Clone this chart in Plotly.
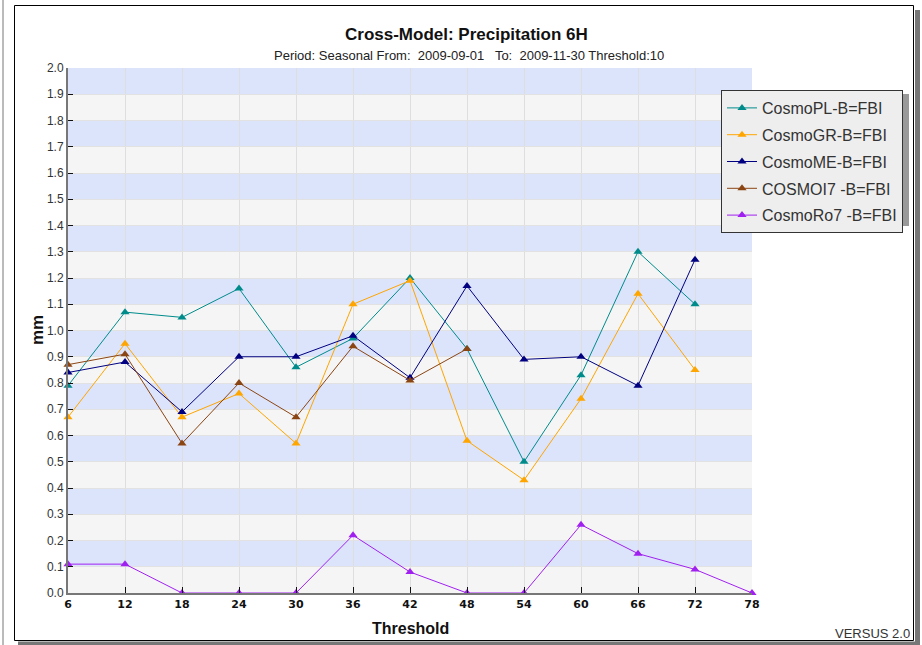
import plotly.graph_objects as go

thresholds = [6, 12, 18, 24, 30, 36, 42, 48, 54, 60, 66, 72, 78]
x_ticks = [6, 12, 18, 24, 30, 36, 42, 48, 54, 60, 66, 72, 78]

cosmo_pl = [0.79, 1.07, 1.05, 1.16, 0.86, 0.97, 1.20, 0.93, 0.50, 0.83, 1.30, 1.10]
cosmo_gr = [0.67, 0.95, 0.67, 0.76, 0.57, 1.10, 1.19, 0.58, 0.43, 0.74, 1.14, 0.85]
cosmo_me = [0.84, 0.88, 0.69, 0.90, 0.90, 0.98, 0.82, 1.17, 0.89, 0.90, 0.79, 1.27]
cosmo_i7 = [0.87, 0.91, 0.57, 0.80, 0.67, 0.94, 0.81, 0.93]
cosmo_ro7 = [0.11, 0.11, 0.00, 0.00, 0.00, 0.22, 0.08, 0.00, 0.00, 0.26, 0.15, 0.09, 0.00]

series = [
    ("CosmoPL-B=FBI", cosmo_pl, "#008B8B"),
    ("CosmoGR-B=FBI", cosmo_gr, "#FFA500"),
    ("CosmoME-B=FBI", cosmo_me, "#000080"),
    ("COSMOI7 -B=FBI", cosmo_i7, "#8B4513"),
    ("CosmoRo7 -B=FBI", cosmo_ro7, "#A020F0"),
]

W, H = 922, 645
L, R, T, B = 68, 752, 68, 593


def px(x):
    return (x - L) / (R - L)


def py(y):
    return (B - y) / (B - T)


fig = go.Figure()
for i, (name, vals, col) in enumerate(series):
    fig.add_trace(go.Scatter(
        x=thresholds[:len(vals)], y=vals, name=name, mode="lines+markers",
        line=dict(color=col, width=1),
        marker=dict(symbol="triangle-up", size=8, color=col),
        cliponaxis=False, legendgroup=f"g{i}",
    ))

shapes = []
# alternating bands
for i in range(20):
    lo = i / 10
    if i % 2 == 1:
        shapes.append(dict(type="rect", xref="paper", yref="y", x0=0, x1=1,
                           y0=lo, y1=lo + 0.1, fillcolor="#dce4fb",
                           line=dict(width=0), layer="below"))
# frame
shapes.append(dict(type="rect", xref="paper", yref="paper",
                   x0=px(915), x1=px(920), y0=py(645), y1=py(10),
                   fillcolor="#777777", line=dict(width=0), layer="above"))
shapes.append(dict(type="rect", xref="paper", yref="paper",
                   x0=px(18), x1=px(920), y0=py(645), y1=py(641.5),
                   fillcolor="#777777", line=dict(width=0), layer="above"))
shapes.append(dict(type="rect", xref="paper", yref="paper",
                   x0=px(14.5), x1=px(913.5), y0=py(640.5), y1=py(5.5),
                   line=dict(color="#000000", width=1), layer="above"))
shapes.append(dict(type="line", xref="paper", yref="paper",
                   x0=px(3), x1=px(3), y0=py(645), y1=py(0),
                   line=dict(color="#777777", width=1), layer="above"))
# legend shadow
shapes.append(dict(type="rect", xref="paper", yref="paper",
                   x0=px(725), x1=px(909), y0=py(226), y1=py(94),
                   fillcolor="#999999", line=dict(width=0), layer="above"))

annotations = [
    dict(text="<b>Cross-Model: Precipitation 6H</b>", x=px(466), y=py(35),
         xref="paper", yref="paper", showarrow=False,
         xanchor="center", yanchor="middle",
         font=dict(size=17, color="#111111", family="Liberation Sans")),
    dict(text="Period: Seasonal From:  2009-09-01   To:  2009-11-30 Threshold:10",
         x=px(469), y=py(56), xref="paper", yref="paper", showarrow=False,
         xanchor="center", yanchor="middle",
         font=dict(size=13, color="#222222", family="Liberation Sans")),
    dict(text="<b>mm</b>", x=px(37), y=py(330), xref="paper", yref="paper",
         showarrow=False, textangle=-90, xanchor="center", yanchor="middle",
         font=dict(size=17, color="#111111", family="Liberation Sans")),
    dict(text="<b>Threshold</b>", x=px(410), y=py(628), xref="paper", yref="paper",
         showarrow=False, xanchor="center", yanchor="middle",
         font=dict(size=16, color="#111111", family="Liberation Sans")),
    dict(text="VERSUS 2.0", x=px(912), y=py(633), xref="paper", yref="paper",
         xanchor="right", yanchor="middle", showarrow=False,
         font=dict(size=13, color="#333333", family="Liberation Sans")),
]

fig.update_layout(
    width=W, height=H,
    margin=dict(l=L, r=W - R, t=T, b=H - B),
    paper_bgcolor="white", plot_bgcolor="#f5f5f5",
    shapes=shapes, annotations=annotations,
    showlegend=True,
    legend=dict(x=px(721), y=py(90), xanchor="left", yanchor="top",
                bgcolor="#eeeeee", bordercolor="#333333", borderwidth=1,
                font=dict(size=16, color="#333333", family="Liberation Sans"),
                itemwidth=30, tracegroupgap=3, traceorder="grouped"),
    xaxis=dict(range=[6, 78], tickvals=x_ticks,
               ticktext=[f"<b>{v}</b>" for v in x_ticks],
               tickfont=dict(size=11, color="#111111", family="DejaVu Sans"),
               ticks="inside", ticklen=6, tickcolor="#111111",
               showgrid=True, gridcolor="#dedede", gridwidth=1,
               showline=True, linecolor="#777777", linewidth=2,
               zeroline=False),
    yaxis=dict(range=[0, 2], dtick=0.1, tickformat=".1f",
               tickfont=dict(size=12, color="#333333", family="Liberation Sans"),
               ticks="inside", ticklen=5, tickcolor="#111111",
               showgrid=True, gridcolor="#e2e2e2", gridwidth=1,
               showline=True, linecolor="#777777", linewidth=2,
               zeroline=False),
)

fig.write_html("out.html", config={"displayModeBar": False},
               post_script="document.body.style.margin='0';")
